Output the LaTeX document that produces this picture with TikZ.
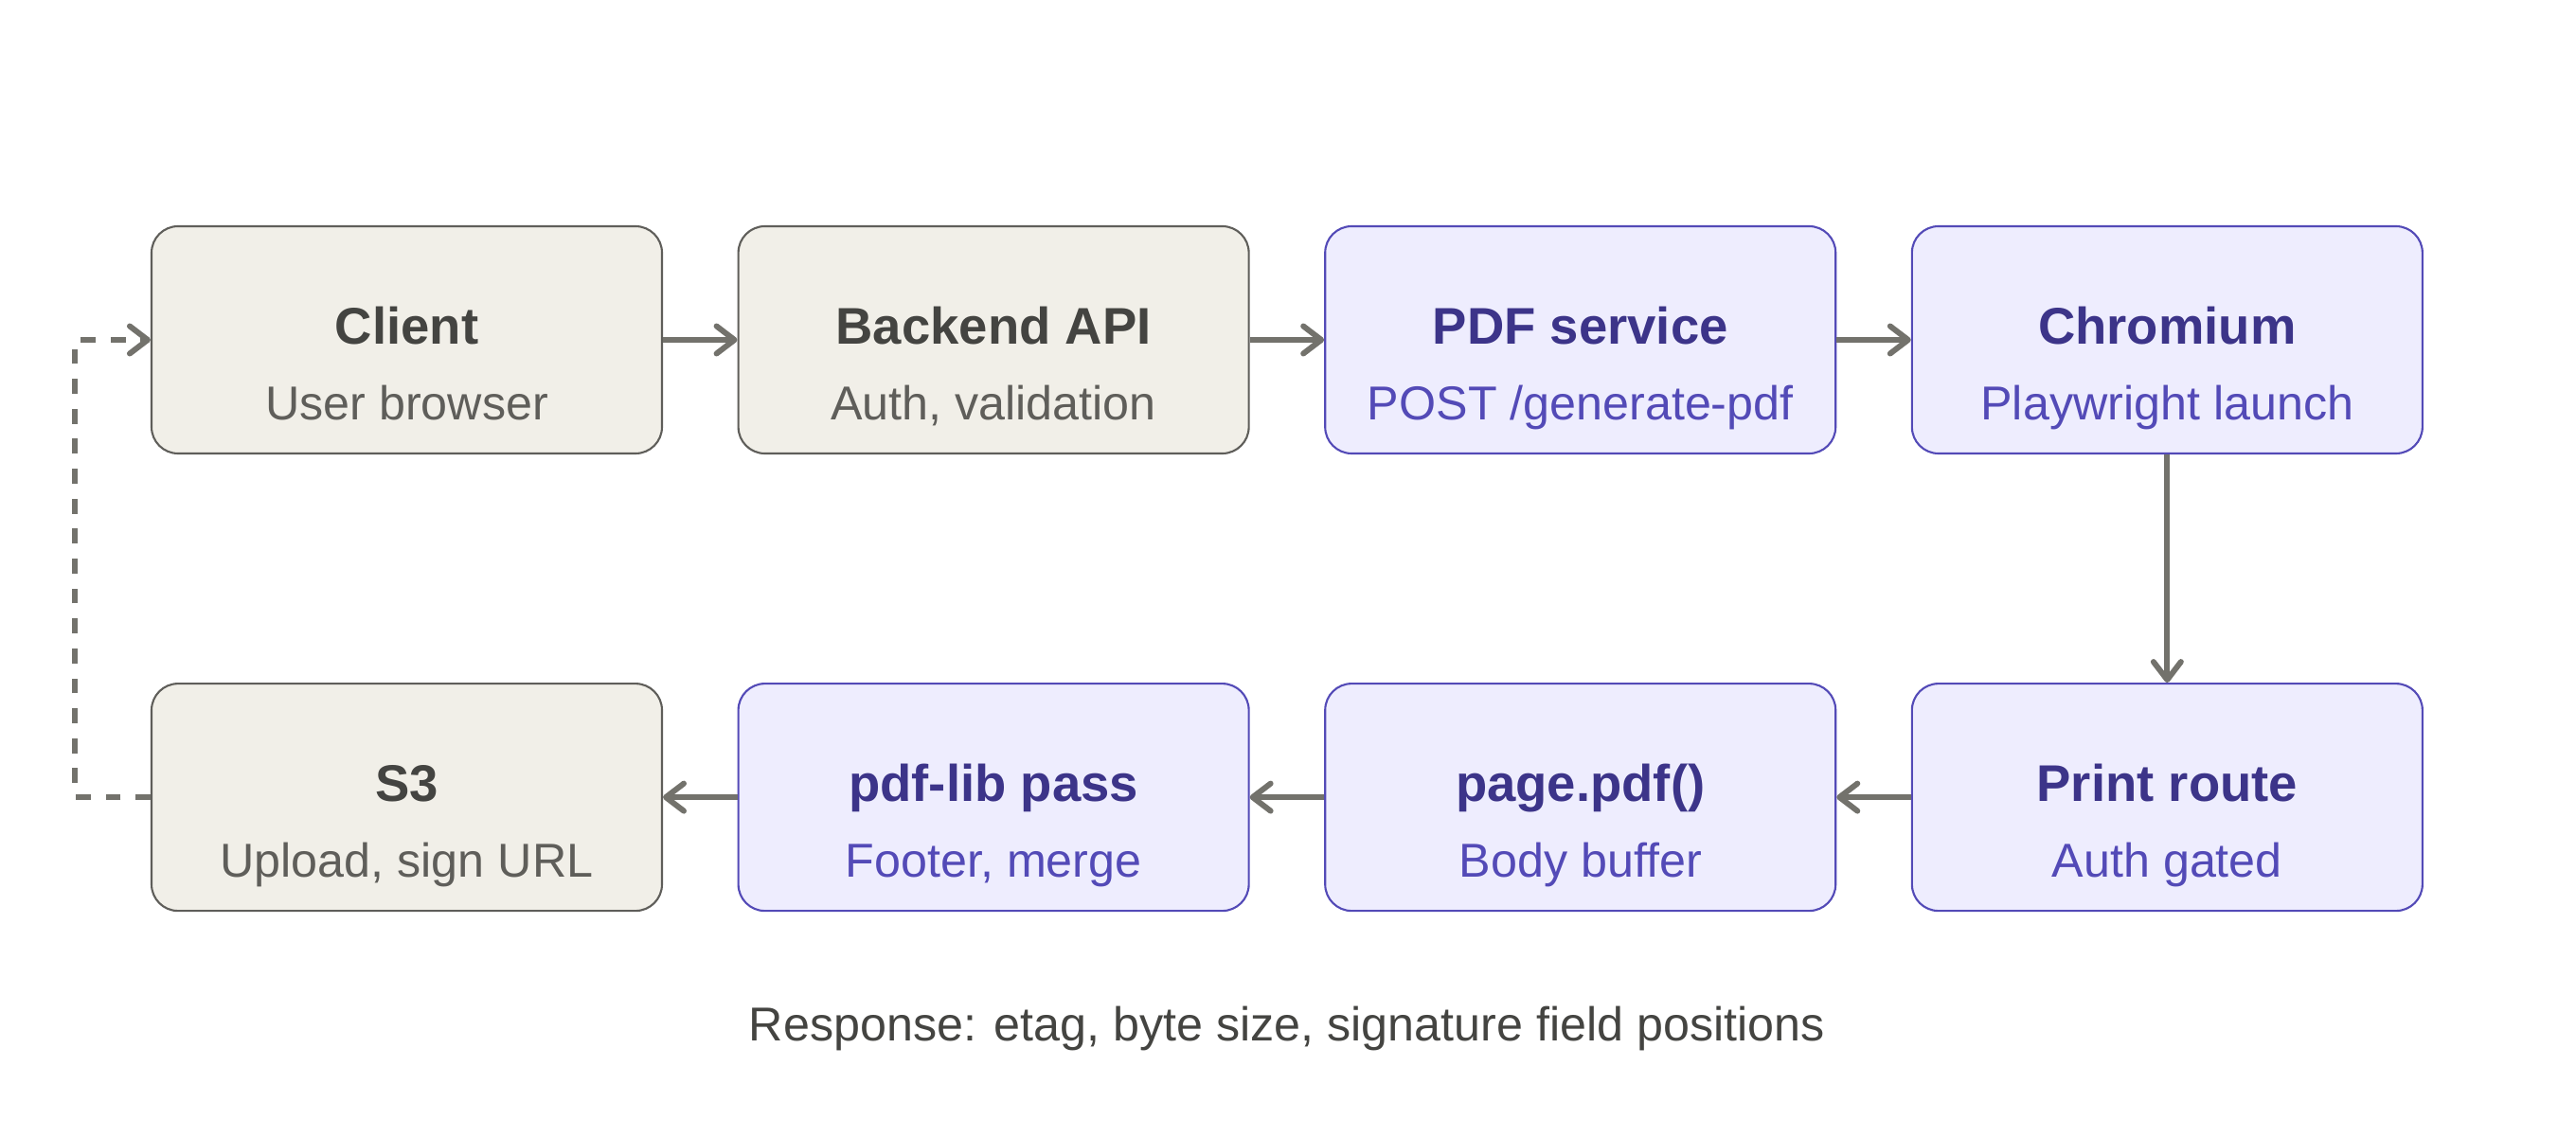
\documentclass[tikz,border=0pt]{standalone}
\usepackage{fontspec}
\setmainfont{Liberation Sans}
\usepackage{xcolor}
\usetikzlibrary{arrows.meta, positioning, calc}
\definecolor{piedra}{HTML}{F1EFE8}
\definecolor{gris}{HTML}{5F5E5A}
\definecolor{grisoscuro}{HTML}{444441}
\definecolor{flecha}{HTML}{73726C}
\definecolor{violetaclaro}{HTML}{EEEDFE}
\definecolor{violeta}{HTML}{534AB7}
\definecolor{violetaoscuro}{HTML}{3C3489}

\begin{document}
\begin{tikzpicture}[
  font=\fontsize{14.3}{17}\selectfont,
  caja/.style={rectangle, rounded corners=0.28cm, line width=0.6pt,
               minimum width=5.39cm, minimum height=2.4cm, align=center, inner sep=0pt,
               text height=48pt, text depth=0pt},
  gcaja/.style={caja, draw=gris, fill=piedra, text=gris},
  vcaja/.style={caja, draw=violeta, fill=violetaclaro, text=violeta},
  arr/.style={-{Straight Barb[length=1.9mm, width=2.9mm, round]}, line width=1.7pt, flecha},
  arrd/.style={arr, dash pattern=on 4.5pt off 4.5pt},
  nota/.style={text=grisoscuro},
]
\useasboundingbox (0,0) rectangle (27.2,12);

% --- Fila superior ---
\node[gcaja] (client) at (4.295,8.41)
  {{\fontsize{15.5}{18}\selectfont\bfseries\color{grisoscuro}Client}\\[5.7pt]User browser};
\node[gcaja, right=0.785cm of client] (backend)
  {{\fontsize{15.5}{18}\selectfont\bfseries\color{grisoscuro}Backend API}\\[5.7pt]Auth, validation};
\node[vcaja, right=0.785cm of backend] (pdfsvc)
  {{\fontsize{15.5}{18}\selectfont\bfseries\color{violetaoscuro}PDF service}\\[5.7pt]POST /generate-pdf};
\node[vcaja, right=0.785cm of pdfsvc] (chromium)
  {{\fontsize{15.5}{18}\selectfont\bfseries\color{violetaoscuro}Chromium}\\[5.7pt]Playwright launch};

% --- Fila inferior ---
\node[vcaja, below=2.41cm of chromium] (printroute)
  {{\fontsize{15.5}{18}\selectfont\bfseries\color{violetaoscuro}Print route}\\[5.7pt]Auth gated};
\node[vcaja, left=0.785cm of printroute] (pagepdf)
  {{\fontsize{15.5}{18}\selectfont\bfseries\color{violetaoscuro}page.pdf()}\\[5.7pt]Body buffer};
\node[vcaja, left=0.785cm of pagepdf] (pdflib)
  {{\fontsize{15.5}{18}\selectfont\bfseries\color{violetaoscuro}pdf-lib pass}\\[5.7pt]Footer, merge};
\node[gcaja, left=0.785cm of pdflib] (s3)
  {{\fontsize{15.5}{18}\selectfont\bfseries\color{grisoscuro}S3}\\[5.7pt]Upload, sign URL};

% --- Flujo ---
\draw[arr] (client) -- (backend);
\draw[arr] (backend) -- (pdfsvc);
\draw[arr] (pdfsvc) -- (chromium);
\draw[arr] (chromium) -- (printroute);
\draw[arr] (printroute) -- (pagepdf);
\draw[arr] (pagepdf) -- (pdflib);
\draw[arr] (pdflib) -- (s3);

% --- Retorno ---
\coordinate (ret) at ($(s3.west)+(-0.8,0)$);
\draw[arrd] (s3.west) -- (ret) |- (client.west);

% --- Respuesta ---
\node[nota] (resp) at ($(pdflib)!0.5!(pagepdf)+(0,-2.445)$)
  {Response: etag, byte size, signature field positions};

\end{tikzpicture}
\end{document}
